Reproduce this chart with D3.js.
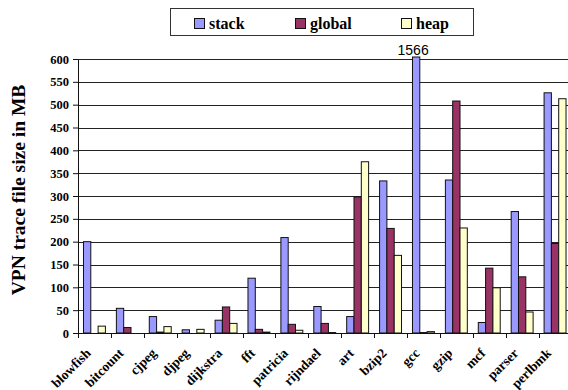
<!DOCTYPE html>
<html lang="en">
<head>
    <meta charset="UTF-8">
    <title>VPN trace file size</title>
    <script src="https://d3js.org/d3.v7.min.js"></script>
    <style>
        body { margin: 0; background: #fff; }
        text { font-family: 'Liberation Serif', 'Times New Roman', serif; font-weight: bold; }
    </style>
</head>
<body>
<script>

    const width  = 568;
    const height = 390;

    const benchmarks = ['blowfish', 'bitcount', 'cjpeg', 'djpeg', 'dijkstra', 'fft', 'patricia',
                        'rijndael', 'art', 'bzip2', 'gcc', 'gzip', 'mcf', 'parser', 'perlbmk'];
    const series = ['stack', 'global', 'heap'];
    const stack  = [200, 54, 36, 7, 28, 120, 209, 58, 36, 333, 1566, 335, 23, 266, 526];
    const global = [0, 12, 2, 0, 57, 8, 19, 21, 298, 229, 1, 508, 142, 123, 196];
    const heap   = [15, 0, 14, 8, 21, 2, 6, 1, 375, 170, 3, 230, 99, 46, 513];
    const yTicks = d3.range(0, 601, 50);
    const colors = ['#9999ff', '#993366', '#ffffcc'];

    const values = {stack: stack, global: global, heap: heap};
    const rows = benchmarks.map((b, i) => ({name: b, vals: series.map(s => ({key: s, v: values[s][i]}))}));

    const plotLeft = 78, plotRight = 571.5, plotTop = 59, plotBottom = 333;

    const x0 = d3.scaleBand().domain(benchmarks).range([plotLeft, plotRight]).padding(0);
    const x1 = d3.scaleBand().domain(series).range([0, x0.bandwidth()])
            .paddingInner(0).paddingOuter(0.75);
    const y = d3.scaleLinear().domain([0, 600]).range([plotBottom, plotTop]);
    const color = d3.scaleOrdinal().domain(series).range(colors);

    const svg = d3.select("body").append("svg")
            .attr("width", width)
            .attr("height", height);

    // gridlines
    svg.append("g")
            .selectAll("line")
            .data(yTicks.filter(d => d > 0))
            .enter().append("line")
            .attr("x1", plotLeft).attr("x2", width)
            .attr("y1", d => Math.round(y(d)) + 0.5)
            .attr("y2", d => Math.round(y(d)) + 0.5)
            .attr("stroke", "#222");

    // bars
    svg.append("g")
            .selectAll("g")
            .data(rows)
            .enter().append("g")
            .attr("transform", d => "translate(" + x0(d.name) + ",0)")
            .selectAll("rect")
            .data(d => d.vals.filter(e => e.v > 0))
            .enter().append("rect")
            .attr("x", d => x1(d.key))
            .attr("width", x1.bandwidth())
            .attr("y", d => y(Math.min(d.v, 600)) - (d.v > 600 ? 2 : 0))
            .attr("height", d => plotBottom - y(Math.min(d.v, 600)) + (d.v > 600 ? 2 : 0))
            .attr("fill", d => color(d.key))
            .attr("stroke", "#111")
            .attr("stroke-width", 1);

    // label for the clipped value
    rows.forEach(r => r.vals.forEach(v => {
        if (v.v > 600) {
            svg.append("text")
                    .attr("x", x0(r.name) + x1(v.key) + x1.bandwidth() / 2 - 3)
                    .attr("y", 55)
                    .attr("text-anchor", "middle")
                    .style("font-family", "'Liberation Sans', Arial, sans-serif")
                    .style("font-weight", "normal")
                    .style("font-size", "14px")
                    .text(v.v);
        }
    }));

    // y axis
    const yAxis = svg.append("g")
            .attr("transform", "translate(" + plotLeft + ",0)")
            .call(d3.axisLeft(y).tickValues(yTicks).tickSize(5).tickPadding(4).tickSizeOuter(0));
    yAxis.select(".domain").attr("stroke", "#111");
    yAxis.selectAll(".tick line").attr("stroke", "#111");
    yAxis.selectAll("text")
            .style("font-family", "'Liberation Serif', 'Times New Roman', serif")
            .style("font-size", "12.5px").style("font-weight", "bold").attr("fill", "#000");

    // x axis
    svg.append("line")
            .attr("x1", plotLeft).attr("x2", width)
            .attr("y1", plotBottom + 0.5).attr("y2", plotBottom + 0.5)
            .attr("stroke", "#111");
    svg.append("g")
            .selectAll("line")
            .data(benchmarks)
            .enter().append("line")
            .attr("x1", d => Math.round(x0(d)) + 0.5)
            .attr("x2", d => Math.round(x0(d)) + 0.5)
            .attr("y1", plotBottom).attr("y2", plotBottom + 5)
            .attr("stroke", "#111");

    svg.append("g")
            .selectAll("text")
            .data(benchmarks)
            .enter().append("text")
            .attr("transform", d => "translate(" + (x0(d) + x0.bandwidth() / 2 - 3) + "," + (plotBottom + 21) + ") rotate(-45)")
            .attr("text-anchor", "end")
            .style("font-size", "13.5px")
            .text(d => d);

    // y title
    svg.append("text")
            .attr("transform", "translate(25,190) rotate(-90)")
            .attr("text-anchor", "middle")
            .style("font-size", "19.5px")
            .text("VPN trace file size in MB");

    // legend
    svg.append("rect")
            .attr("x", 170.5).attr("y", 8.5)
            .attr("width", 303).attr("height", 27)
            .attr("fill", "#fff").attr("stroke", "#333");

    const legendX = [194, 295, 401];
    const legend = svg.append("g")
            .selectAll("g")
            .data(series)
            .enter().append("g")
            .attr("transform", (d, i) => "translate(" + legendX[i] + ",18)");
    legend.append("rect")
            .attr("x", 0.5).attr("y", 0.5)
            .attr("width", 10).attr("height", 10)
            .attr("fill", d => color(d))
            .attr("stroke", "#111");
    legend.append("text")
            .attr("x", 15).attr("y", 10.5)
            .style("font-size", "16px")
            .text(d => d);

</script>
</body>
</html>
